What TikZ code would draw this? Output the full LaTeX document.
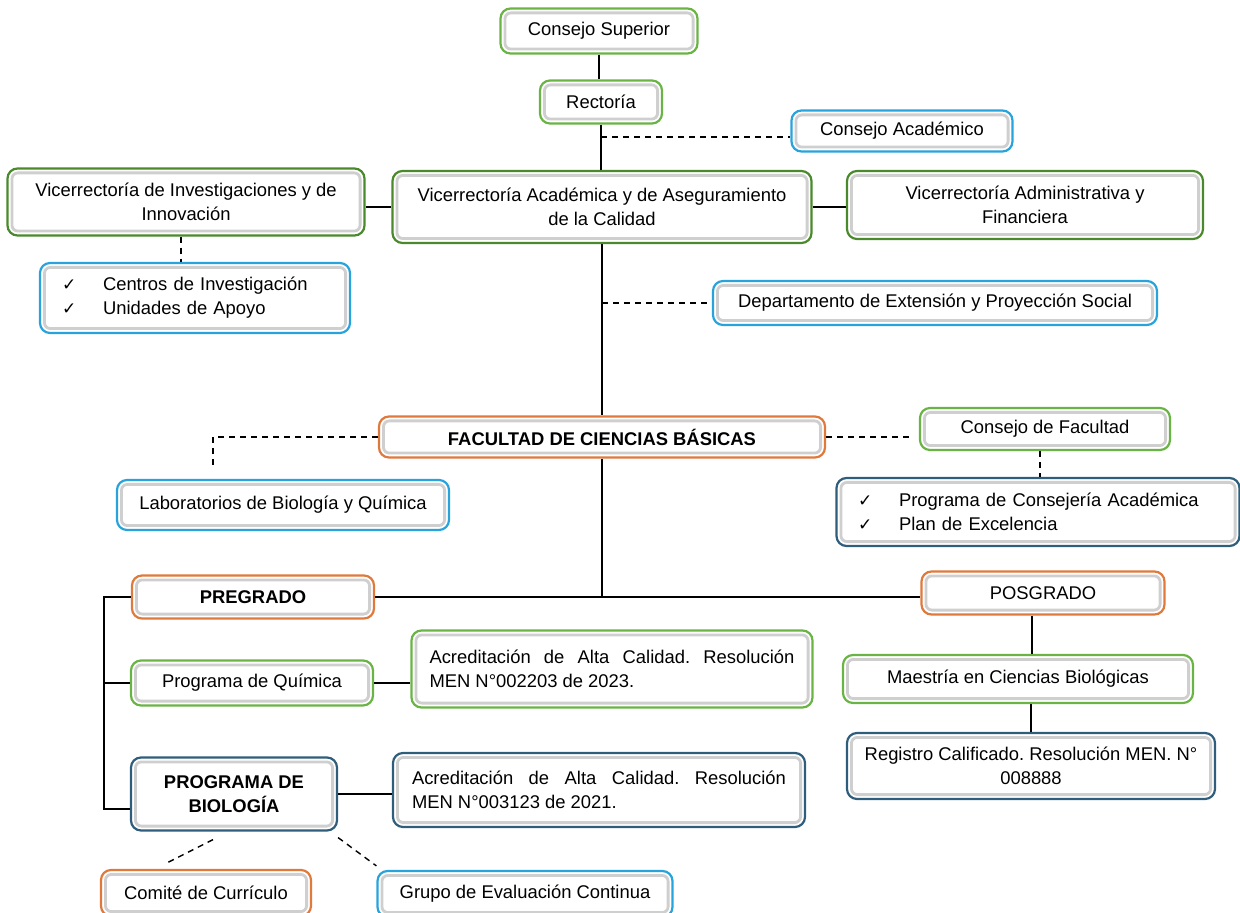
\documentclass[tikz,border=0pt]{standalone}
\usepackage{fontspec}
\setmainfont{Liberation Sans}
\newfontfamily\checkfont{DejaVu Sans}
\usepackage{xcolor}
\frenchspacing

\definecolor{lgreen}{HTML}{6AB446}
\definecolor{dgreen}{HTML}{4A8A2C}
\definecolor{lblue}{HTML}{29A3DC}
\definecolor{dblue}{HTML}{2F5D7C}
\definecolor{orng}{HTML}{E07A3C}

\newcommand{\orgfont}{\fontsize{9.2}{12}\selectfont}
\newcommand{\chk}{\makebox[20.5pt][l]{\checkfont\fontsize{8.5}{12}\selectfont ✓}}

\tikzset{
  orgbox/.style={draw=#1, line width=1.1pt, rounded corners=5pt, fill=white,
    inner sep=0pt, align=center, font=\orgfont,
    path picture={\draw[gray!38, line width=1.4pt, rounded corners=3pt]
      ([shift={(2.2pt,2.2pt)}]path picture bounding box.south west) rectangle
      ([shift={(-2.2pt,-2.2pt)}]path picture bounding box.north east);}},
  wh/.style 2 args={minimum width=#1*0.5pt, minimum height=#2*0.5pt},
  link/.style={line width=0.9pt},
  dlink/.style={line width=0.7pt, dash pattern=on 3pt off 2.5pt},
}

\begin{document}
\begin{tikzpicture}[x=0.5pt, y=-0.5pt]
\clip (0,0) rectangle (1240,913);

% Top of the structure
\node[orgbox=lgreen, wh={197}{45}] (superior) at (599,31) {Consejo Superior};
\node[orgbox=lgreen, wh={122}{43}] (rectoria) at (601,102) {Rectoría};
\node[orgbox=lblue, wh={221}{41}] (cacad) at (902,131) {Consejo Académico};
\node[orgbox=dgreen, wh={357}{67}] (vinv) at (186,202) {Vicerrectoría de Investigaciones y de\\Innovación};
\node[orgbox=dgreen, wh={419}{72}] (vacad) at (602,207) {Vicerrectoría Académica y de Aseguramiento\\de la Calidad};
\node[orgbox=dgreen, wh={356}{68}] (vadm) at (1025,205) {Vicerrectoría Administrativa y\\Financiera};
\node[orgbox=lblue, wh={310}{70}, align=left, text width=133pt] (centros) at (195,298)
  {\chk Centros de Investigación\\\chk Unidades de Apoyo};
\node[orgbox=lblue, wh={444}{44}] (extension) at (935,303) {Departamento de Extensión y Proyección Social};

% Facultad
\node[orgbox=orng, wh={446}{41}, font=\orgfont\bfseries] (facultad) at (602,437) {FACULTAD DE CIENCIAS BÁSICAS};
\node[orgbox=lgreen, wh={250}{42}] (cfac) at (1045,429) {Consejo de Facultad};
\node[orgbox=lblue, wh={332}{50}] (labs) at (283,505) {Laboratorios de Biología y Química};
\node[orgbox=dblue, wh={403}{68}, align=left, text width=180pt] (conseja) at (1038,512)
  {\chk Programa de Consejería Académica\\\chk Plan de Excelencia};

% Pregrado
\node[orgbox=orng, wh={242}{43}, font=\orgfont\bfseries] (pregrado) at (253,597) {PREGRADO};
\node[orgbox=lgreen, wh={242}{45}] (quimica) at (252,683) {Programa de Química};
\node[orgbox=lgreen, wh={401}{77}, align=justify, text width=182.5pt] (acred23) at (612,669)
  {Acreditación de Alta Calidad. Resolución\linebreak MEN N°002203 de 2023.};
\node[orgbox=dblue, wh={206}{73}, font=\orgfont\bfseries] (biologia) at (234,794) {PROGRAMA DE\\BIOLOGÍA};
\node[orgbox=dblue, wh={412}{74}, align=justify, text width=187pt] (acred21) at (599,790)
  {Acreditación de Alta Calidad. Resolución\linebreak MEN N°003123 de 2021.};
\node[orgbox=orng, wh={210}{46}] (comite) at (206,893) {Comité de Currículo};
\node[orgbox=lblue, wh={295}{46}] (grupo) at (525,894) {Grupo de Evaluación Continua};

% Posgrado
\node[orgbox=orng, wh={243}{43}] (posgrado) at (1043,593) {POSGRADO};
\node[orgbox=lgreen, wh={350}{48}] (maestria) at (1018,679) {Maestría en Ciencias Biológicas};
\node[orgbox=dblue, wh={368}{66}] (registro) at (1031,766) {Registro Calificado. Resolución MEN. N°\\008888};

% Connectors
\coordinate (cacadjoin) at (601,137);
\coordinate (labsjoin) at (213,468);
\coordinate (rail) at (104,597);
\draw[link] (superior) -- (superior |- rectoria.north);
\draw[link] (rectoria.south) -- (rectoria.south |- vacad.north);
\draw[dlink] (cacadjoin) -- (cacadjoin -| cacad.west);
\draw[link] (vacad.west) -- (vacad.west -| vinv.east);
\draw[link] (vacad.east) -- (vacad.east -| vadm.west);
\draw[dlink] ([xshift=-2.5pt]vinv.south) -- ([xshift=-2.5pt]vinv.south |- centros.north);
\draw[link] (vacad.south) -- (facultad.north);
\draw[dlink] (vacad.south |- extension.west) -- (extension.west);
\draw[dlink] (facultad.west) -| (labsjoin);
\draw[dlink, shorten >=5pt] (facultad.east) -- (facultad.east -| cfac.west);
\draw[dlink] ([xshift=-2.5pt]cfac.south) -- ([xshift=-2.5pt]cfac.south |- conseja.north);
\draw[link] (facultad.south) -- (facultad.south |- pregrado.east);
\draw[link] (pregrado.east) -- (pregrado.east -| posgrado.west);
\draw[link] (pregrado.west) -- (rail) |- ([yshift=-7.5pt]biologia.west);
\draw[link] (quimica.west) -- (quimica.west -| rail);
\draw[link] (quimica.east) -- (quimica.east -| acred23.west);
\draw[link] (biologia.east) -- (biologia.east -| acred21.west);
\draw[link] ([xshift=-5.5pt]posgrado.south) -- ([xshift=-5.5pt]posgrado.south |- maestria.north);
\draw[link] (registro.north) -- (registro.north |- maestria.south);
\draw[dlink] ([xshift=-10.5pt,yshift=-4pt]biologia.south) -- ([xshift=-20.5pt,yshift=2.5pt]comite.north);
\draw[dlink] ([yshift=-3pt]biologia.south east) -- ([yshift=2pt]grupo.north west);
\end{tikzpicture}
\end{document}
